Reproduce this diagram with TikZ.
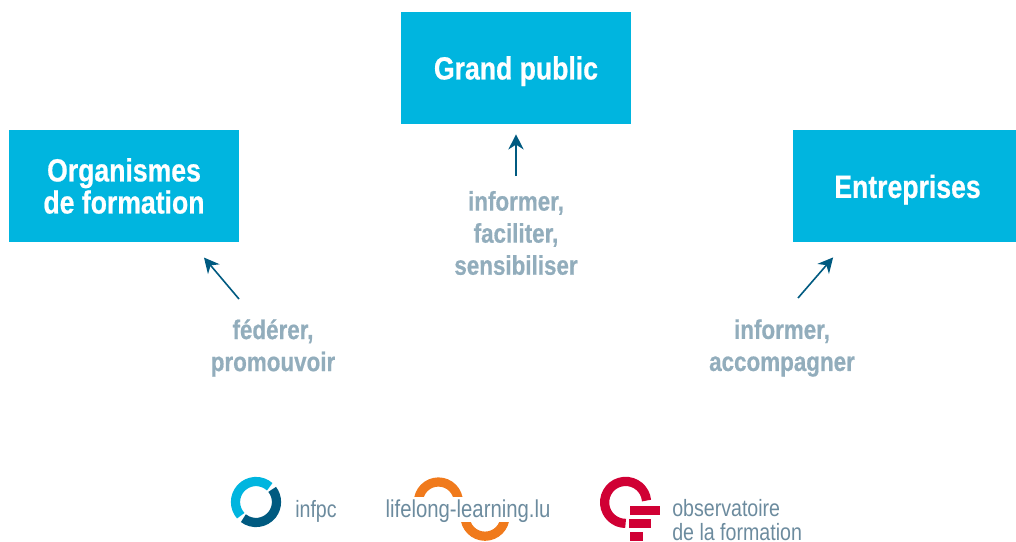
\documentclass[tikz,border=0pt]{standalone}
\usepackage{fontspec}
\usepackage{xcolor}
\usepackage{tikz}
\usetikzlibrary{arrows.meta}
\setmainfont{Liberation Sans}[FakeStretch=0.83]
\newfontfamily\heavyfont{Liberation Sans Bold}[FakeStretch=0.83, FakeBold=0.6]
\definecolor{infpcblue}{RGB}{0, 181, 223}
\definecolor{infpcdark}{RGB}{0, 90, 128}
\definecolor{infpcgray}{RGB}{146, 173, 188}
\definecolor{logogray}{RGB}{108, 139, 158}
\definecolor{lifelongorange}{RGB}{240, 122, 28}
\definecolor{observred}{RGB}{208, 0, 52}
\tikzset{
    publicbox/.style={fill=infpcblue, text=white, minimum width=5.75cm, minimum height=2.8cm, align=center, inner sep=0pt,
        font=\fontsize{22.8}{22.8}\selectfont\heavyfont},
    actionlabel/.style={text=infpcgray, align=center, inner sep=0pt, font=\fontsize{19.2}{22.8}\selectfont\heavyfont},
    flow/.style={draw=infpcdark, line width=0.04cm, -{Stealth[length=0.38cm,width=0.38cm]}},
    logotext/.style={text=logogray, inner sep=0pt, font=\fontsize{16.8}{17}\selectfont},
    logoring/.style={line width=0.23cm}
}
\begin{document}
\begin{tikzpicture}
    \useasboundingbox (0,0) rectangle (25.4,13.525);

    % Target groups
    \node[publicbox, text height=0.74cm] (grandpublic) at (12.9,11.825) {Grand public};
    \node[publicbox] (organismes) at (3.1,8.875) {Organismes\\de formation};
    \node[publicbox, minimum width=5.575cm, text height=0.76cm] (entreprises) at (22.6125,8.875) {\hspace*{0.15cm}Entreprises};

    % Actions
    \node[actionlabel] (actionpublic) at (12.9,7.7) {informer,\\faciliter,\\sensibiliser};
    \node[actionlabel] (actionorganismes) at (6.825,4.825) {fédérer,\\promouvoir};
    \node[actionlabel] (actionentreprises) at (19.55,4.825) {informer,\\accompagner};

    % Arrows - free tails under the boxes
    \coordinate (tailpublic) at (12.9,9.125);
    \coordinate (tailorganismes) at (5.975,6.05);
    \coordinate (tailentreprises) at (19.95,6.075);
    \draw[flow, shorten >=0.25cm] (tailpublic) -- (grandpublic.south);
    \draw[flow, shorten >=0.5cm] (tailorganismes) -- (organismes.-40.7);
    \draw[flow, shorten >=0.5cm] (tailentreprises) -- (entreprises.224.2);

    % Logo infpc
    \draw[logoring, infpcblue] (6.4,0.975) ++(48:0.5125) arc (48:222:0.5125);
    \draw[logoring, infpcdark] (6.4,0.975) ++(232:0.5125) arc (232:398:0.5125);
    \node[logotext] (infpc) at (7.9,0.75) {infpc};

    % Logo lifelong-learning
    \begin{scope}
        \clip (10,1.125) rectangle (12.5,3);
        \draw[logoring, lifelongorange] (10.96,0.975) circle (0.5);
    \end{scope}
    \begin{scope}
        \clip (11,0) rectangle (13.5,0.47);
        \draw[logoring, lifelongorange] (12.125,0.62) circle (0.5);
    \end{scope}
    \node[logotext, font=\fontsize{17.4}{17}\selectfont] (lifelong) at (11.7,0.75) {lifelong-learning.lu};

    % Logo observatoire
    \draw[logoring, observred] (15.64,0.965) ++(5:0.525) arc (5:270:0.525);
    \fill[observred] (15.75,0.65) rectangle (16.5,0.875);
    \fill[observred] (15.73,0.33) rectangle (16.275,0.55);
    \fill[observred] (15.75,0) rectangle (16.08,0.22);
    \node[logotext, anchor=west, align=left] (observatoire) at (16.8,0.52) {observatoire\\de la formation};
\end{tikzpicture}
\end{document}
